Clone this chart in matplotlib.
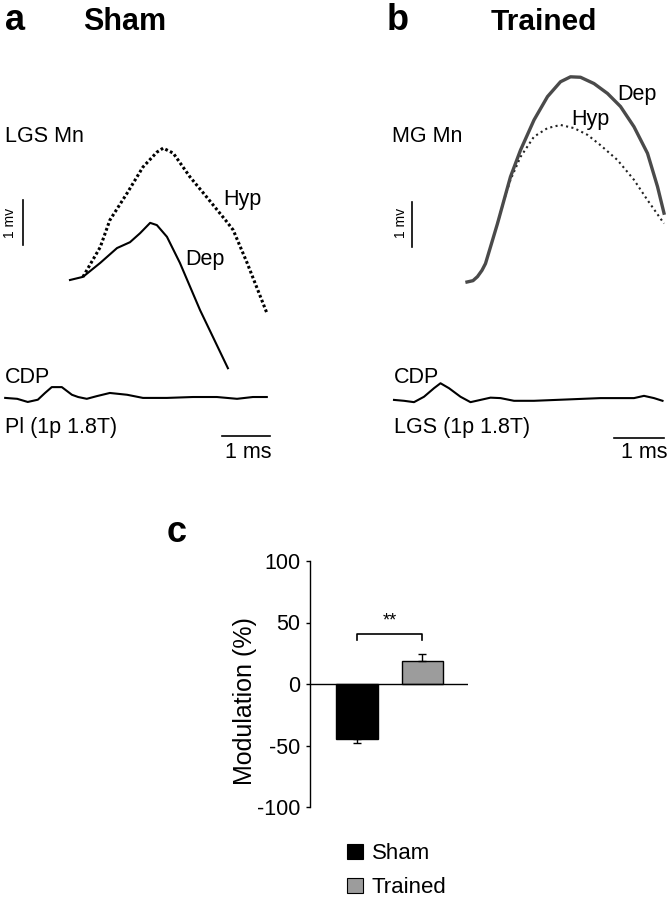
import matplotlib
matplotlib.use("Agg")
import matplotlib.pyplot as plt
from matplotlib.patches import Patch

plt.rcParams["font.family"] = ["Liberation Sans", "DejaVu Sans"]
plt.rcParams["axes.unicode_minus"] = False

# ----------------------------
# Data (time in ms, potential in mV)
# ----------------------------
# panel a: Sham, LGS motoneuron
sham_dep_t = [0.0, 0.27, 0.63, 0.98, 1.25, 1.46, 1.67, 1.81, 2.02, 2.29, 2.71, 2.98, 3.29]
sham_dep_v = [0.0, 0.07, 0.38, 0.71, 0.84, 1.04, 1.27, 1.22, 0.96, 0.38, -0.67, -1.27, -1.96]
sham_hyp_t = [0.27, 0.63, 0.83, 1.19, 1.52, 1.81, 1.94, 2.15, 2.50, 2.85, 3.27, 3.40, 3.69, 4.10]
sham_hyp_v = [0.07, 0.73, 1.33, 1.93, 2.51, 2.84, 2.93, 2.82, 2.29, 1.84, 1.29, 1.11, 0.38, -0.73]
sham_cdp_t = [-1.35, -1.10, -0.88, -0.67, -0.52, -0.38, -0.17, 0.04, 0.17, 0.35,
              0.56, 0.83, 1.19, 1.52, 2.02, 2.56, 3.06, 3.48, 3.81, 4.10]
sham_cdp_v = [0.0, -0.02, -0.09, -0.04, 0.11, 0.24, 0.24, 0.07, 0.02, -0.02,
              0.04, 0.11, 0.07, 0.0, 0.0, 0.02, 0.02, -0.02, 0.02, 0.02]

# panel b: Trained, MG motoneuron
trained_dep_t = [0.0, 0.12, 0.21, 0.30, 0.37, 0.47, 0.61, 0.74, 0.87, 1.07, 1.34, 1.61,
                 1.87, 2.07, 2.27, 2.54, 2.81, 3.07, 3.34, 3.61, 3.81, 3.94]
trained_dep_v = [0.0, 0.03, 0.12, 0.26, 0.41, 0.78, 1.30, 1.82, 2.34, 2.93, 3.60, 4.12,
                 4.45, 4.56, 4.55, 4.41, 4.19, 3.90, 3.45, 2.86, 2.12, 1.53]
trained_hyp_t = [0.61, 0.74, 0.87, 1.07, 1.34, 1.61, 1.87, 2.14, 2.41, 2.67, 3.01, 3.34, 3.61, 3.94]
trained_hyp_v = [1.30, 1.82, 2.27, 2.78, 3.23, 3.42, 3.49, 3.42, 3.27, 3.04, 2.71, 2.27, 1.82, 1.30]
trained_cdp_t = [-1.46, -1.26, -1.06, -0.86, -0.66, -0.53, -0.36, -0.13, 0.07, 0.27,
                 0.47, 0.67, 0.94, 1.34, 2.01, 2.67, 3.34, 3.54, 3.74, 3.91]
trained_cdp_v = [0.0, -0.02, -0.05, 0.07, 0.26, 0.37, 0.26, 0.07, -0.05, 0.0,
                 0.05, 0.04, -0.02, -0.02, 0.01, 0.04, 0.04, 0.09, 0.04, -0.02]

CDP_OFFSET = -2.62

# panel c: modulation
groups = ["Sham", "Trained"]
modulation = [-45, 19]
mod_err = [3, 5]

W, H = 668, 900


def fx(px):
    return px / W


def fy(py):
    return 1 - py / H


fig = plt.figure(figsize=(W / 100, H / 100), dpi=100)

# ----------------------------
# Panel a
# ----------------------------
ax_a = fig.add_axes([0, fy(480), fx(334), 480 / H])
ax_a.set_xlim(-1.458, 5.5)
ax_a.set_ylim(-4.444, 6.222)
ax_a.axis("off")
ax_a.plot(sham_hyp_t, sham_hyp_v, color="black", lw=2.2, ls=(0, (0.9, 0.8)))
ax_a.plot(sham_dep_t, sham_dep_v, color="black", lw=1.5)
ax_a.plot(sham_cdp_t, [v + CDP_OFFSET for v in sham_cdp_v], color="black", lw=1.5)
ax_a.plot([-0.98, -0.98], [0.78, 1.78], color="black", lw=1.2)
ax_a.plot([3.17, 4.17], [-3.47, -3.47], color="black", lw=1.2)

# ----------------------------
# Panel b
# ----------------------------
ax_b = fig.add_axes([fx(334), fy(480), fx(334), 480 / H])
ax_b.set_xlim(-2.66, 4.02)
ax_b.set_ylim(-4.4, 6.267)
ax_b.axis("off")
ax_b.plot(trained_hyp_t, trained_hyp_v, color="#222222", lw=1.5, ls=(0, (1, 1.6)))
ax_b.plot(trained_dep_t, trained_dep_v, color="#4a4a4a", lw=2.4)
ax_b.plot(trained_cdp_t, [v + CDP_OFFSET for v in trained_cdp_v], color="black", lw=1.5)
ax_b.plot([-1.1, -1.1], [0.78, 1.78], color="black", lw=1.2)
ax_b.plot([2.94, 3.94], [-3.47, -3.47], color="black", lw=1.2)

# ----------------------------
# Labels for a and b
# ----------------------------
def label(px, py, s, size=15.5, **kw):
    fig.text(fx(px), fy(py), s, fontsize=size, va="baseline", ha="left", **kw)


label(5, 30, "a", size=26, weight="bold")
label(83, 30, "Sham", size=22, weight="bold")
label(387, 30, "b", size=26, weight="bold")
label(491, 30, "Trained", size=21.5, weight="bold")

label(5, 142, "LGS Mn")
label(223, 205, "Hyp")
label(185, 265, "Dep")
label(5, 383, "CDP")
label(5, 433, "Pl (1p 1.8T)")
label(225, 458, "1 ms")

label(392, 142, "MG Mn")
label(617, 100, "Dep")
label(571, 125, "Hyp")
label(394, 383, "CDP")
label(394, 433, "LGS (1p 1.8T)")
label(621, 458, "1 ms")

fig.text(fx(10), fy(223), "1 mv", fontsize=10, rotation=90, ha="center", va="center")
fig.text(fx(401), fy(223), "1 mv", fontsize=10, rotation=90, ha="center", va="center")

label(167, 542, "c", size=26, weight="bold")

# ----------------------------
# Panel c: bar chart
# ----------------------------
ax_c = fig.add_axes([fx(310), fy(807), fx(468 - 310), (807 - 561) / H])
xpos = [1, 2]
colors = ["black", "#9c9c9c"]
ax_c.bar(xpos, modulation, width=0.64, color=colors, edgecolor="black", linewidth=1)
ax_c.errorbar(xpos[0], modulation[0], yerr=[[mod_err[0]], [0]], fmt="none",
              ecolor="black", elinewidth=1, capsize=3)
ax_c.errorbar(xpos[1], modulation[1], yerr=[[0], [mod_err[1]]], fmt="none",
              ecolor="black", elinewidth=1, capsize=3)
ax_c.axhline(0, color="black", lw=1)

# significance bracket
ax_c.plot([1, 1, 2, 2], [36, 41, 41, 36], color="black", lw=1.2)
ax_c.text(1.5, 44, "**", ha="center", va="bottom", fontsize=13)

ax_c.set_xlim(0.282, 2.695)
ax_c.set_ylim(-100, 100)
ax_c.set_yticks([-100, -50, 0, 50, 100])
ax_c.set_xticks([])
for side in ["top", "right", "bottom"]:
    ax_c.spines[side].set_visible(False)
ax_c.spines["left"].set_linewidth(1)
ax_c.tick_params(axis="y", labelsize=15.5, length=3, width=1, pad=4)
fig.text(fx(245), fy(701), "Modulation (%)", fontsize=18, rotation=90,
         ha="center", va="center")

handles = [Patch(facecolor=c, edgecolor="black", linewidth=0.8) for c in colors]
fig.legend(handles, groups, loc="upper left", bbox_to_anchor=(fx(347), fy(843)),
           frameon=False, fontsize=16, handlelength=0.72, handleheight=0.68,
           handletextpad=0.4, labelspacing=0.6, borderpad=0, borderaxespad=0)

fig.savefig("out.png", dpi=100)
